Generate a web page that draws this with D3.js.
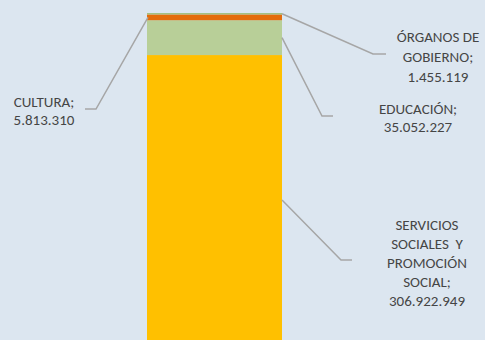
<!DOCTYPE html>
<html>
<head>
<meta charset="utf-8">
<script src="https://cdn.jsdelivr.net/npm/d3@7"></script>
<style>
	body { margin: 0; background: #dce6f0; }
	svg { display: block; }
	.lbl { font-family: Carlito, Lato, sans-serif; font-size: 15px; fill: #454545; }
	.leader { fill: none; stroke: #a6a6a6; stroke-width: 1.5; }
</style>
</head>
<body>
<div id="chart"></div>
<script>
// one stacked column, bottom to top
const categories = ['SERVICIOS SOCIALES  Y PROMOCIÓN SOCIAL', 'EDUCACIÓN', 'CULTURA', 'ÓRGANOS DE GOBIERNO'];
const values = [306922949, 35052227, 5813310, 1455119];
const labelLines = [
	['SERVICIOS', 'SOCIALES\u00a0 Y', 'PROMOCIÓN', 'SOCIAL;', '306.922.949'],
	['EDUCACIÓN;', '35.052.227'],
	['CULTURA;', '5.813.310'],
	['ÓRGANOS DE', 'GOBIERNO;', '1.455.119']
];
const colors = ['#ffc000', '#b8cf98', '#e46c0a', '#a3c182'];

const width = 485, height = 340;

const svg = d3.select('#chart').append('svg')
	.attr('width', width)
	.attr('height', height);

// stack the values
let acc = 0;
const segs = values.map((v, i) => {
	const s = { i, y0: acc, y1: acc + v };
	acc += v;
	return s;
});

// bottom of the column sits below the visible area
const yScale = d3.scaleLinear()
	.domain([0, acc])
	.range([360, 13]);
const xScale = d3.scaleBand()
	.domain(['total'])
	.range([147, 282])
	.padding(0);

svg.append('g').selectAll('rect')
	.data(segs)
	.join('rect')
	.attr('x', xScale('total'))
	.attr('width', xScale.bandwidth())
	.attr('y', d => yScale(d.y1))
	.attr('height', d => yScale(d.y0) - yScale(d.y1))
	.attr('fill', d => colors[d.i]);

// label placement: [side, elbow x, elbow y, end x, text centre x, first line y, line step]
const labelPos = [
	['r', 341, 260, 352, 427, 230, 19],
	['r', 322, 116, 333, 418, 114, 18],
	['l', 96, 109, 85, 44, 107, 18],
	['r', 373, 54, 386, 438, 42, 20]
];

const mid = d => {
	const top = Math.max(yScale(d.y1), 0);
	const bot = Math.min(yScale(d.y0), 340);
	return d.i === 0 ? 200 : (top + bot) / 2;
};

segs.forEach(d => {
	const [side, ex, ey, endx, tx, ty, step] = labelPos[d.i];
	const sx = side === 'r' ? xScale('total') + xScale.bandwidth() : xScale('total') + 1;
	svg.append('path')
		.attr('class', 'leader')
		.attr('d', d3.line()([[sx, mid(d)], [ex, ey], [endx, ey]]));
	const t = svg.append('text')
		.attr('class', 'lbl')
		.attr('text-anchor', 'middle');
	labelLines[d.i].forEach((line, k) => {
		t.append('tspan')
			.attr('x', tx)
			.attr('y', ty + k * step)
			.text(line);
	});
});
</script>
</body>
</html>
